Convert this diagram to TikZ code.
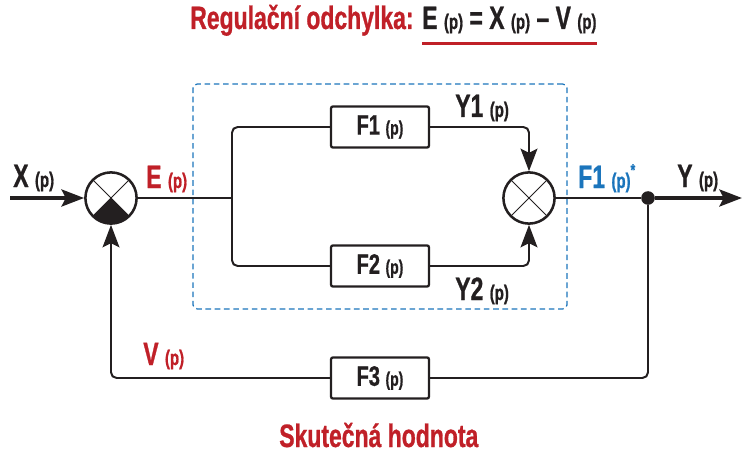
\documentclass[tikz,border=0pt]{standalone}
\usepackage{fontspec}
\setmainfont{Liberation Sans}[FakeStretch=0.71, BoldFeatures={FakeBold=0.8}]
\usetikzlibrary{positioning, arrows.meta}
\definecolor{regred}{RGB}{192,32,40}
\definecolor{regblue}{RGB}{27,117,188}
\definecolor{ink}{RGB}{35,31,32}
\newcommand\pp[2][15]{#2 {\fontsize{#1}{#1}\selectfont(p)}}

\begin{document}
\begin{tikzpicture}[
        x=0.025cm, y=-0.025cm, color=ink,
        line/.style={line width=1.4pt, rounded corners=4pt},
        heavy/.style={line width=2.8pt},
        arr/.style={-{Stealth[length=16pt, width=12pt, inset=3pt]}},
        block/.style={draw=ink, line width=1.6pt, rounded corners=1.5pt, minimum width=2.45cm, minimum height=1.03cm, inner sep=0pt, font=\bfseries\fontsize{20}{22}\selectfont},
        sig/.style={anchor=base west, inner sep=0pt, font=\bfseries\fontsize{23}{25}\selectfont},
        sum/.style={circle, draw=ink, fill=white, line width=1.8pt, minimum size=1.28cm, inner sep=0pt,
            path picture={\draw[ink, line width=0.7pt] (path picture bounding box.north west) -- (path picture bounding box.south east)
                (path picture bounding box.north east) -- (path picture bounding box.south west);}},
        sumfill/.style={sum,
            path picture={\fill[ink] (path picture bounding box.center) -- (path picture bounding box.south west) -- (path picture bounding box.south east) -- cycle;
                \draw[ink, line width=0.7pt] (path picture bounding box.north west) -- (path picture bounding box.south east)
                (path picture bounding box.north east) -- (path picture bounding box.south west);}},
        dashbox/.style={draw=regblue, line width=0.9pt, dash pattern=on 4pt off 2.6pt, rounded corners=3pt, minimum width=9.35cm, minimum height=5.62cm, inner sep=0pt}
    ]
    \useasboundingbox (0,0) rectangle (744,453);

    \node[sig, text=regred] (title) at (190,29) {Regulační odchylka:};
    \node[sig, text=ink] (eq) at (422,29) {\pp{E} = \pp{X} – \pp{V}};
    \draw[draw=regred, line width=1.6pt] ([yshift=-7pt]eq.south west) -- ([yshift=-7pt]eq.south east);

    \node[dashbox] (grp) at (380,196.5) {};

    \node[sumfill] (s1) at (111,198) {};
    \node[sum] (s2) at (529,198) {};
    \node[block] (f1) at (380,127) {\pp[14]{F1}};
    \node[block] (f2) at (380,266) {\pp[14]{F2}};
    \node[block] (f3) at (380,378) {\pp[14]{F3}};
    \node[circle, fill=ink, inner sep=0pt, minimum size=0.34cm] (dot) at (648,198) {};
    \coordinate (in) at (10,198);
    \coordinate (br) at (232,198);
    \coordinate (out) at (742,198);

    \node[sig, text=ink] (xl) at (13,187) {\pp{X}};
    \node[sig, text=regred] (el) at (146,188) {\pp{E}};
    \node[sig, text=ink] (y1l) at (455,117) {\pp{Y1}};
    \node[sig, text=ink] (y2l) at (455,300) {\pp{Y2}};
    \node[sig, text=regblue] (fl) at (578,188) {F1 {\fontsize{15}{15}\selectfont(p)\raisebox{1.1ex}{\fontsize{12}{12}\selectfont*}}};
    \node[sig, text=ink] (yl) at (677,187) {\pp{Y}};
    \node[sig, text=regred] (vl) at (143,365) {\pp{V}};
    \node[sig, text=regred] (real) at (279,447) {Skutečná hodnota};

    \draw[heavy, arr] (in) -- (s1.west);
    \draw[line] (s1.east) -- (br);
    \draw[line] (f1.west) -| (br) |- (f2.west);
    \draw[line, arr] (f1.east) -| (s2.north);
    \draw[line, arr] (f2.east) -| (s2.south);
    \draw[line] (s2.east) -- (dot);
    \draw[heavy, arr] (dot) -- (out);
    \draw[line] (dot) |- (f3.east);
    \draw[line, arr] (f3.west) -| (s1.south);
\end{tikzpicture}
\end{document}
